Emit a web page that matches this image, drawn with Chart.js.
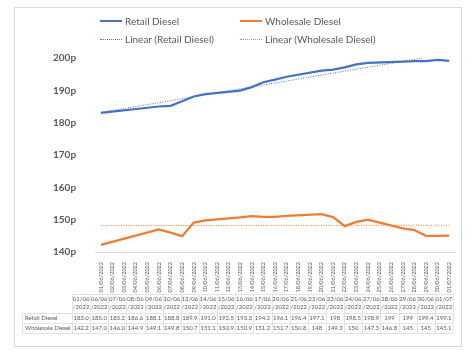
<!DOCTYPE html>
<html lang="en">
<head>
<meta charset="UTF-8">
<title>Diesel prices</title>
<script src="https://cdn.jsdelivr.net/npm/chart.js@4.4.1/dist/chart.umd.min.js"></script>
<style>
  body { margin: 0; background: #fff; }
  #wrap { position: relative; width: 475px; height: 352px; }
  #frame { position: absolute; left: 14px; top: 7px; width: 446px; height: 338px; border: 1px solid #d9d9d9; }
  #legend { position: absolute; left: 100px; top: 12px; font-family: Lato, sans-serif; font-size: 10px; color: #595959; }
  .row { display: flex; height: 18px; align-items: center; }
  .item { width: 140px; display: flex; align-items: center; }
  .sw { width: 22px; margin-right: 3px; }
  canvas { position: absolute; left: 0; top: 0; }
</style>
</head>
<body>
<div id="wrap">
  <div id="frame"></div>
  <canvas id="chart" width="475" height="352"></canvas>
  <div id="legend"></div>
</div>

<script>
// every calendar day on the axis
const axisDates = ['01/06/2022', '02/06/2022', '03/06/2022', '04/06/2022', '05/06/2022', '06/06/2022',
  '07/06/2022', '08/06/2022', '09/06/2022', '10/06/2022', '11/06/2022', '12/06/2022', '13/06/2022',
  '14/06/2022', '15/06/2022', '16/06/2022', '17/06/2022', '18/06/2022', '19/06/2022', '20/06/2022',
  '21/06/2022', '22/06/2022', '23/06/2022', '24/06/2022', '25/06/2022', '26/06/2022', '27/06/2022',
  '28/06/2022', '29/06/2022', '30/06/2022', '01/07/2022'];

// days that have a price
const priceDates = ['01/06/2022', '06/06/2022', '07/06/2022', '08/06/2022', '09/06/2022', '10/06/2022',
  '13/06/2022', '14/06/2022', '15/06/2022', '16/06/2022', '17/06/2022', '20/06/2022', '21/06/2022',
  '22/06/2022', '23/06/2022', '24/06/2022', '27/06/2022', '28/06/2022', '29/06/2022', '30/06/2022',
  '01/07/2022'];

const retail = [183.0, 185.0, 185.2, 186.6, 188.1, 188.8, 189.9, 191.0, 192.5, 193.3, 194.2,
  196.1, 196.4, 197.1, 198, 198.5, 198.9, 199, 199, 199.4, 199.1];
const wholesale = [142.2, 147.0, 146.0, 144.9, 149.1, 149.8, 150.7, 151.1, 150.9, 150.9, 151.2,
  151.7, 150.8, 148, 149.3, 150, 147.3, 146.8, 145, 145, 145.1];

const yTicks = [140, 150, 160, 170, 180, 190, 200];

const blue = '#4472c4';
const orange = '#ed7d31';
const grey = '#595959';

function points(vals) {
  return vals.map((v, i) => ({ x: priceDates[i], y: v }));
}

// least squares line over the day index
function trend(vals) {
  const xs = priceDates.map(d => axisDates.indexOf(d));
  const n = xs.length;
  const mx = xs.reduce((a, b) => a + b, 0) / n;
  const my = vals.reduce((a, b) => a + b, 0) / n;
  let sxy = 0, sxx = 0;
  for (let i = 0; i < n; i++) {
    sxy += (xs[i] - mx) * (vals[i] - my);
    sxx += (xs[i] - mx) * (xs[i] - mx);
  }
  const b = sxy / sxx, a = my - b * mx;
  const last = axisDates.length - 1;
  return [{ x: axisDates[0], y: a }, { x: axisDates[last], y: a + b * last }];
}

function cellText(v, i) {
  return i < 13 ? v.toFixed(1) : String(v);
}

const tablePlugin = {
  id: 'dataTable',
  afterDraw(chart) {
    const ctx = chart.ctx;
    const x0 = 72, x1 = 453, lx = 22;
    const w = (x1 - x0) / priceDates.length;
    const hTop = 294, rTop = 313, rh = 10;
    ctx.save();
    ctx.strokeStyle = '#e3e3e3';
    ctx.lineWidth = 1;
    // grid
    ctx.beginPath();
    ctx.moveTo(x0, hTop + 0.5); ctx.lineTo(x1, hTop + 0.5);
    for (let r = 0; r <= 2; r++) {
      ctx.moveTo(lx, rTop + r * rh + 0.5); ctx.lineTo(x1, rTop + r * rh + 0.5);
    }
    ctx.moveTo(lx + 0.5, rTop); ctx.lineTo(lx + 0.5, rTop + 2 * rh);
    for (let c = 0; c <= priceDates.length; c++) {
      const x = Math.round(x0 + c * w) + 0.5;
      ctx.moveTo(x, hTop); ctx.lineTo(x, rTop + 2 * rh);
    }
    ctx.stroke();

    ctx.fillStyle = grey;
    ctx.font = '6px Lato, sans-serif';
    ctx.textBaseline = 'middle';
    ctx.textAlign = 'left';
    ctx.fillText('Retail Diesel', lx + 3, rTop + rh / 2 + 0.5);
    ctx.fillText('Wholesale Diesel', lx + 3, rTop + rh * 1.5 + 0.5);
    ctx.textAlign = 'center';
    priceDates.forEach((d, i) => {
      const cx = x0 + (i + 0.5) * w;
      ctx.fillText(d.slice(0, 5), cx, hTop + 5);
      ctx.fillText(d.slice(5), cx, hTop + 13);
      ctx.fillText(cellText(retail[i], i), cx, rTop + rh / 2 + 0.5);
      ctx.fillText(cellText(wholesale[i], i), cx, rTop + rh * 1.5 + 0.5);
    });
    ctx.restore();
  }
};

const datasets = [
  { label: 'Retail Diesel', data: points(retail), borderColor: blue, borderWidth: 2.25 },
  { label: 'Wholesale Diesel', data: points(wholesale), borderColor: orange, borderWidth: 2.25 },
  { label: 'Linear (Retail Diesel)', data: trend(retail), borderColor: blue, borderWidth: 1, borderDash: [1, 1.5] },
  { label: 'Linear (Wholesale Diesel)', data: trend(wholesale), borderColor: orange, borderWidth: 1, borderDash: [1, 1.5] }
];
datasets.forEach(d => { d.pointRadius = 0; d.tension = 0; d.fill = false; });

new Chart(document.getElementById('chart'), {
  type: 'line',
  data: { labels: axisDates, datasets: datasets },
  options: {
    responsive: false,
    animation: false,
    layout: { padding: { left: 42, right: 20, top: 58, bottom: 52 } },
    plugins: { legend: { display: false }, tooltip: { enabled: false } },
    scales: {
      x: {
        type: 'category',
        offset: true,
        afterFit: axis => { axis.height = 48; },
        grid: { display: false },
        border: { display: true, color: '#d9d9d9', width: 1 },
        ticks: {
          autoSkip: false, maxRotation: 90, minRotation: 90, padding: 2,
          color: grey, font: { family: 'Lato', size: 5.5 }
        }
      },
      y: {
        min: yTicks[0], max: yTicks[yTicks.length - 1],
        afterBuildTicks: axis => { axis.ticks = yTicks.map(v => ({ value: v })); },
        grid: { display: false },
        border: { display: false },
        ticks: {
          padding: 11, color: grey,
          font: { family: 'Lato', size: 10, weight: 'bold' },
          callback: v => v + 'p'
        }
      }
    }
  },
  plugins: [tablePlugin]
});

// legend, two by two like the original
const legend = document.getElementById('legend');
[[0, 1], [2, 3]].forEach(pair => {
  const row = document.createElement('div');
  row.className = 'row';
  pair.forEach(i => {
    const d = datasets[i];
    const item = document.createElement('div');
    item.className = 'item';
    const sw = document.createElement('span');
    sw.className = 'sw';
    sw.style.borderTop = d.borderDash ? '1px dotted ' + d.borderColor : '2.5px solid ' + d.borderColor;
    item.appendChild(sw);
    item.appendChild(document.createTextNode(d.label));
    row.appendChild(item);
  });
  legend.appendChild(row);
});
</script>
</body>
</html>
